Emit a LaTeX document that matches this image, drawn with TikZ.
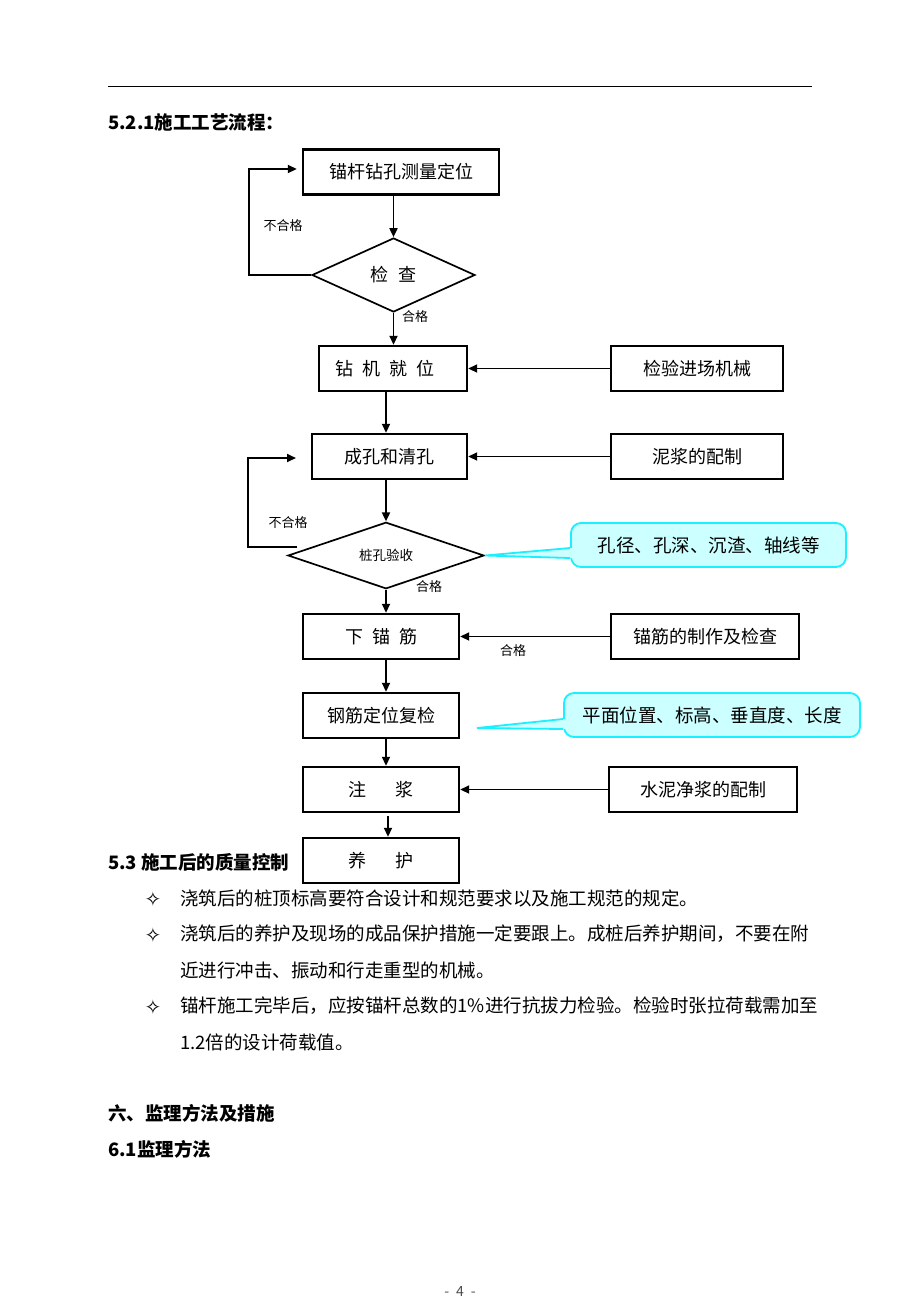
\documentclass[tikz,border=0pt]{standalone}
\usepackage{fontspec}
\setmainfont{Noto Sans CJK SC}
\newfontfamily\symf{DejaVu Sans}
\usetikzlibrary{arrows.meta,shapes.geometric,calc}
\definecolor{cofill}{HTML}{CCFFFF}
\definecolor{coline}{HTML}{1AF0FF}
\tikzset{
  box/.style={draw=black,line width=2.4pt,fill=white,rectangle,minimum height=45pt,inner sep=0pt,font=\fontsize{18}{20}\selectfont},
  dia/.style={draw=black,line width=1.7pt,diamond,inner sep=0pt},
  arr/.style={line width=1.8pt,-{Triangle[length=9pt,width=8pt]}},
  lab/.style={inner sep=0pt,font=\fontsize{13}{14}\selectfont},
  body/.style={inner sep=0pt,anchor=west,font=\fontsize{18.5}{20}\selectfont},
  head/.style={inner sep=0pt,anchor=west,font=\fontsize{18.5}{20}\selectfont\bfseries},
  bul/.style={inner sep=0pt,font=\symf\fontsize{20}{22}\selectfont},
  callout/.style={draw=coline,fill=cofill,line width=1.8pt,rounded corners=10pt,rectangle,minimum height=44pt,inner sep=0pt,font=\fontsize{18.5}{20}\selectfont},
}
\begin{document}
\begin{tikzpicture}[x=1pt,y=-1pt]
\useasboundingbox[fill=white] (0,0) rectangle (920,1302);
% header rule
\coordinate (r1) at (108,86);
\coordinate (r2) at (812,86);
\draw[line width=1pt] (r1) -- (r2);
\node[head] (t1) at (108,122) {5.2.1施工工艺流程：};

% main column
\node[box,minimum width=196pt] (b1) at (401,172) {锚杆钻孔测量定位};
\node[dia,minimum width=163pt,minimum height=74pt,font=\fontsize{18}{20}\selectfont] (d1) at (393.5,275) {检\hspace{0.6em}查};
\node[box,minimum width=148pt] (b2) at (393,368.5) {\hspace*{-16pt}钻\hspace{0.5em}机\hspace{0.5em}就\hspace{0.5em}位};
\node[box,minimum width=155pt] (b3) at (389.5,456.5) {成孔和清孔};
\node[dia,minimum width=196pt,minimum height=66pt,font=\fontsize{13.5}{14}\selectfont] (d2) at (386,555.5) {桩孔验收};
\node[box,minimum width=156pt] (b4) at (381,636.5) {下\hspace{0.5em}锚\hspace{0.5em}筋};
\node[box,minimum width=156pt] (b5) at (381,715.5) {钢筋定位复检};
\node[box,minimum width=156pt] (b6) at (381,789.5) {注\hspace{1.6em}浆};
\node[box,minimum width=156pt] (b7) at (381,860.5) {养\hspace{1.6em}护};

% right column
\node[box,minimum width=172pt] (ra) at (697,368.5) {检验进场机械};
\node[box,minimum width=172pt] (rb) at (697,456.5) {泥浆的配制};
\node[box,minimum width=188pt] (rc) at (705,636.5) {锚筋的制作及检查};
\node[box,minimum width=188pt] (rd) at (703,789.5) {水泥净浆的配制};

% callouts
\node[callout,minimum width=275pt] (c1) at (708.5,545) {孔径、孔深、沉渣、轴线等};
\node[callout,minimum width=296pt] (c2) at (712,715) {平面位置、标高、垂直度、长度};
\coordinate (p2) at (477,728);
\fill[cofill] (d2.east) -- ($(c1.west)+(0,3)$) -- ($(c1.west)+(4,3)$) -- ($(c1.west)+(4,13)$) -- ($(c1.west)+(0,13)$) -- cycle;
\draw[coline,line width=1.8pt,line join=miter] ($(c1.west)+(0,3)$) -- (d2.east) -- ($(c1.west)+(0,13)$);
\fill[cofill] (p2) -- ($(c2.west)+(0,4)$) -- ($(c2.west)+(4,4)$) -- ($(c2.west)+(4,14)$) -- ($(c2.west)+(0,14)$) -- cycle;
\draw[coline,line width=1.8pt] ($(c2.west)+(0,4)$) -- (p2) -- ($(c2.west)+(0,14)$);

% vertical flow
\draw[arr] (d1.north |- b1.south) -- (d1.north);
\draw[arr] (d1.south) -- (d1.south |- b2.north);
\draw[arr] (d2.north |- b2.south) -- (d2.north |- b3.north);
\draw[arr] (d2.north |- b3.south) -- (d2.north);
\draw[arr] (d2.south) -- (d2.south |- b4.north);
\draw[arr] (d2.south |- b4.south) -- (d2.south |- b5.north);
\draw[arr] (d2.south |- b5.south) -- (d2.south |- b6.north);
\coordinate (s7) at (388,816);
\draw[arr] (s7) -- (s7 |- b7.north);

% side inputs
\draw[arr] (ra.west) -- (b2.east);
\draw[arr] (rb.west) -- (b3.east);
\draw[arr] (rc.west) -- (b4.east);
\draw[arr] (rd.west) -- (b6.east);

% loops
\coordinate (l1) at (249,275);
\draw[arr] (d1.west) -- (l1) |- ($(b1.west)+(-5,-3)$);
\coordinate (l2s) at (297,547);
\coordinate (l2c) at (248,547);
\coordinate (l2e) at (296,458);
\draw[arr] (l2s) -- (l2c) |- (l2e);

% labels
\node[lab] (n1) at (283,226) {不合格};
\node[lab] (g1) at (415,317) {合格};
\node[lab] (n2) at (288,523) {不合格};
\node[lab] (g2) at (429,587) {合格};
\node[lab] (g3) at (513,651) {合格};

% section 5.3
\node[head] (t2) at (108,862) {5.3 施工后的质量控制};
\node[bul] (u1) at (153,899) {✧};
\node[body] (x1) at (180,898) {浇筑后的桩顶标高要符合设计和规范要求以及施工规范的规定。};
\node[bul] (u2) at (153,935) {✧};
\node[body] (x2) at (180,934) {浇筑后的养护及现场的成品保护措施一定要跟上。成桩后养护期间，不要在附};
\node[body] (x3) at (180,970) {近进行冲击、振动和行走重型的机械。};
\node[bul] (u3) at (153,1007) {✧};
\node[body] (x4) at (180,1006) {锚杆施工完毕后，应按锚杆总数的1\%进行抗拔力检验。检验时张拉荷载需加至};
\node[body] (x5) at (180,1042) {1.2倍的设计荷载值。};

\node[head] (t3) at (108,1113) {六、监理方法及措施};
\node[head] (t4) at (108,1149) {6.1监理方法};
\node[inner sep=0pt,font=\fontsize{14}{15}\selectfont,text=black!70] (pg) at (460,1291) {-\hspace{0.5em}4\hspace{0.5em}-};
\end{tikzpicture}
\end{document}
